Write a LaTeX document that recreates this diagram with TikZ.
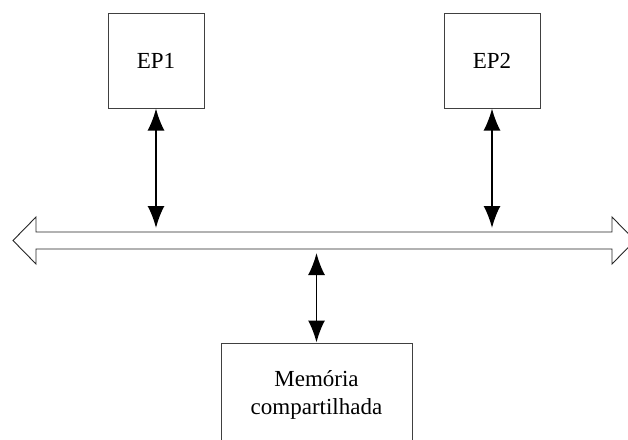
\documentclass[tikz,border=0pt]{standalone}
\usepackage{fontspec}
\setmainfont{Liberation Serif}
\usetikzlibrary{arrows.meta}
\begin{document}
\begin{tikzpicture}[x=1pt,y=-1pt,
  unit/.style={draw=black!75,line width=1pt,fill=white,font=\fontsize{23}{27.5}\selectfont,
    align=center,inner sep=0pt},
  link/.style={line width=1.8pt,{Latex[length=22pt,width=17pt]}-{Latex[length=22pt,width=17pt]}},
  busline/.style={draw=black!85,line width=0.9pt,fill=white,line join=miter}]
\clip (0,0) rectangle (628,439);
\useasboundingbox (0,0) rectangle (628,439);
\fill[white] (0,0) rectangle (628,439);

% processing elements and shared memory
\node[unit,minimum width=96pt,minimum height=95pt] (ep1) at (156,60.5) {EP1};
\node[unit,minimum width=96pt,minimum height=95pt] (ep2) at (492,60.5) {EP2};
\node[unit,minimum width=191pt,minimum height=104pt] (mem) at (316.5,395) {Memória\\compartilhada};

% shared bus (double-headed wide arrow)
\draw[busline] (36,232) -- (612,232) -- (612,217) -- (635,240.5) -- (612,264)
  -- (612,249) -- (36,249) -- (36,264) -- (13,240.5) -- (36,217) -- cycle;

\coordinate (b1) at (156,228);
\coordinate (b2) at (492,228);
\coordinate (b3) at (316.5,253);

% connections to the bus
\draw[link] (ep1.south) -- (b1);
\draw[link] (ep2.south) -- (b2);
\draw[link] (b3) -- (mem.north);
\end{tikzpicture}
\end{document}
